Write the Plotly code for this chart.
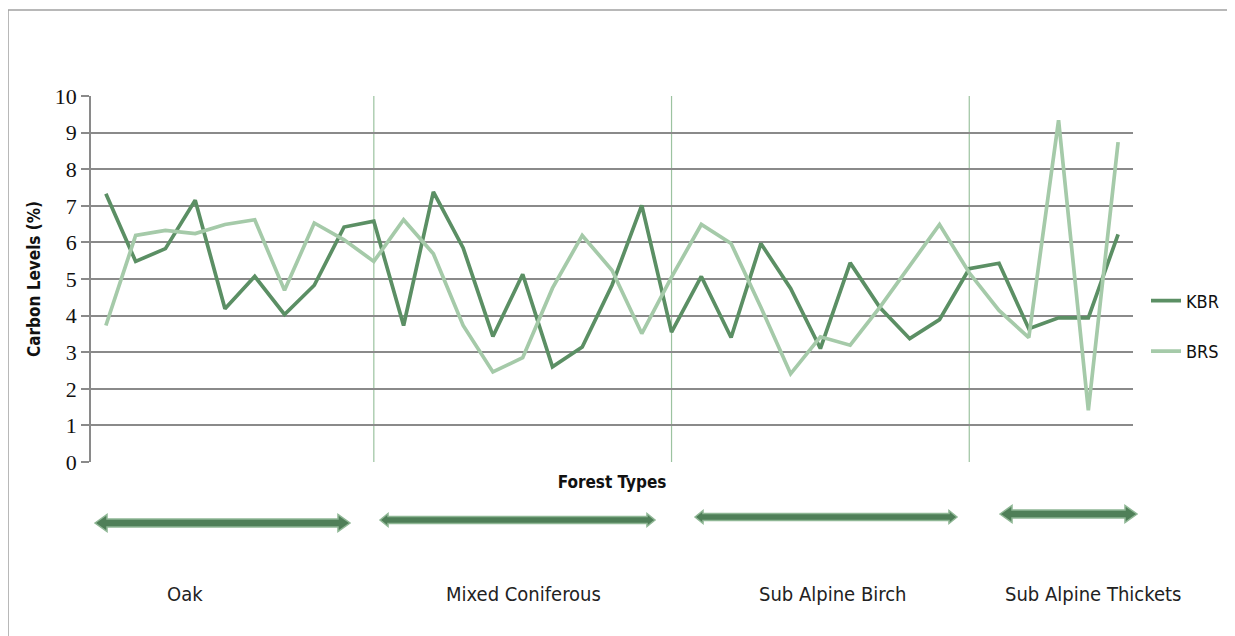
import plotly.graph_objects as go

# sample index along the x axis (no labels shown in the original)
samples = list(range(1, 36))

kbr = [7.33, 5.48, 5.83, 7.15, 4.19, 5.07, 4.03, 4.83, 6.42, 6.58,
       3.73, 7.38, 5.85, 3.43, 5.13, 2.60, 3.14, 4.83, 7.01, 3.55,
       5.07, 3.40, 5.97, 4.74, 3.10, 5.44, 4.22, 3.37, 3.89, 5.28,
       5.43, 3.64, 3.94, 3.94, 6.22]
brs = [3.73, 6.19, 6.33, 6.24, 6.49, 6.62, 4.69, 6.53, 6.07, 5.48,
       6.62, 5.69, 3.73, 2.46, 2.85, 4.75, 6.19, 5.24, 3.51, 5.05,
       6.49, 5.97, 4.23, 2.41, 3.42, 3.19, 4.23, 5.37, 6.49, 5.17,
       4.14, 3.40, 9.34, 1.41, 8.74]

section_ends = [10, 20, 30]
forest_types = ["Oak", "Mixed Coniferous", "Sub Alpine Birch", "Sub Alpine Thickets"]
y_ticks = list(range(0, 11))

W, H = 1235, 636
OFF = 8  # page body margin
# plot box on screen: x 91..1133, y 96..462
SX0, SX1, SY0, SY1 = 91, 1133, 96, 462
L, T = SX0 - OFF, SY0 - OFF
R, B = W - (SX1 - OFF), H - (SY1 - OFF)
narrow = "Liberation Sans Narrow, DejaVu Sans Condensed, Arial Narrow, sans-serif"


def px(x):
    return (x - SX0) / (SX1 - SX0)


def py(y):
    return (SY1 - y) / (SY1 - SY0)


def arrow(x0, x1, cy, shaft, head, hlen):
    # double headed block arrow, screen pixels -> paper path
    pts = [(x0, cy), (x0 + hlen, cy - head / 2), (x0 + hlen, cy - shaft / 2),
           (x1 - hlen, cy - shaft / 2), (x1 - hlen, cy - head / 2), (x1, cy),
           (x1 - hlen, cy + head / 2), (x1 - hlen, cy + shaft / 2),
           (x0 + hlen, cy + shaft / 2), (x0 + hlen, cy + head / 2)]
    path = "M " + " L ".join(f"{px(a):.5f},{py(b):.5f}" for a, b in pts) + " Z"
    return dict(type="path", xref="paper", yref="paper", path=path,
                fillcolor="#4f7f58", line=dict(color="#8fb795", width=1.5))


fig = go.Figure()
fig.add_trace(go.Scatter(x=samples, y=kbr, mode="lines", name="KBR",
                         line=dict(color="#5b8f64", width=3.7), legendgroup="a"))
fig.add_trace(go.Scatter(x=samples, y=brs, mode="lines", name="BRS",
                         line=dict(color="#a5caa9", width=3.7), legendgroup="b"))

shapes = []
for s in section_ends:
    shapes.append(dict(type="line", xref="x", yref="y", x0=s, x1=s, y0=0, y1=10,
                       line=dict(color="#9cc3a0", width=1.2), layer="below"))

# arrows under each forest type
arrow_spans = [(95, 350, 523, 8, 17, 12), (380, 655, 520, 7, 13, 8),
               (695, 957, 517, 7, 13, 8), (1000, 1137, 514, 8, 17, 12)]
for a in arrow_spans:
    shapes.append(arrow(*a))

# chart frame (top and left edges visible)
shapes.append(dict(type="line", xref="paper", yref="paper", x0=px(8), x1=px(1240),
                   y0=py(10), y1=py(10), line=dict(color="#a0a0a0", width=1.5)))
shapes.append(dict(type="line", xref="paper", yref="paper", x0=px(8), x1=px(8),
                   y0=py(10), y1=py(640), line=dict(color="#a0a0a0", width=1.5)))

label_x = [185, 523, 833, 1093]
annotations = [dict(text=t, x=px(x), y=py(594), xref="paper", yref="paper",
                    xanchor="center", yanchor="middle", showarrow=False,
                    font=dict(family=narrow, size=20, color="#222"))
               for t, x in zip(forest_types, label_x)]

title_font = "DejaVu Sans Condensed, Liberation Sans Narrow, sans-serif"

fig.update_layout(
    width=W, height=H,
    margin=dict(l=L, r=R, t=T, b=B),
    paper_bgcolor="white", plot_bgcolor="white",
    shapes=shapes, annotations=annotations,
    showlegend=True,
    legend=dict(x=px(1146), y=py(326), xanchor="left", yanchor="middle",
                font=dict(family=narrow, size=18, color="#111"),
                tracegroupgap=24, bgcolor="rgba(0,0,0,0)"),
    xaxis=dict(range=[0.5, 35.5], showticklabels=False, showgrid=False, zeroline=False,
               showline=False, ticks="",
               title=dict(text="<b>Forest Types</b>", standoff=14,
                          font=dict(family=title_font, size=17, color="#111"))),
    yaxis=dict(range=[0, 10], tickvals=y_ticks, showgrid=True, gridcolor="#8a8a8a",
               gridwidth=1.5, zeroline=False, showline=True, linecolor="#8a8a8a",
               linewidth=1.5, ticks="outside", ticklen=8, tickcolor="#8a8a8a",
               tickwidth=1.5,
               tickfont=dict(family="Liberation Serif, serif", size=22, color="#111"),
               title=dict(text="<b>Carbon Levels (%)</b>", standoff=10,
                          font=dict(family=title_font, size=17, color="#111"))),
)

fig.write_html("out.html")
